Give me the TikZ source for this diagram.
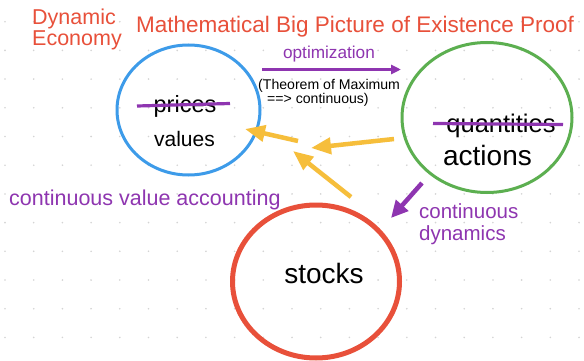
\documentclass[tikz,border=0pt]{standalone}
\usepackage{fontspec}
\setmainfont{Liberation Sans}
\usetikzlibrary{shapes.geometric,arrows.meta}
\definecolor{tred}{HTML}{E8503A}
\definecolor{tpurple}{HTML}{8E35B0}
\definecolor{tblue}{HTML}{3D9BE9}
\definecolor{tgreen}{HTML}{5CAF50}
\definecolor{tyellow}{HTML}{F6BE3B}
\definecolor{tdot}{HTML}{D4D4D4}
\newcommand{\fs}[1]{\fontsize{#1}{#1}\selectfont}
\tikzset{
  oval/.style={ellipse,draw,inner sep=0pt},
  lbl/.style={inner sep=0pt,anchor=base},
  yarrow/.style={draw=tyellow,line width=4.5pt,-{Triangle[length=20pt,width=16pt]}},
  parrow/.style={draw=tpurple,line width=3pt,-{Triangle[length=10pt,width=9pt]}},
  strike/.style={draw=tpurple,line width=3.2pt}
}
\begin{document}
\begin{tikzpicture}[x=1pt,y=-1pt]
\useasboundingbox (0,0) rectangle (584,361);
\fill[white] (0,0) rectangle (584,361);
% dot grid
\foreach \i in {0,...,20}{\foreach \j in {0,...,12}{
  \fill[tdot] ({5+28.7*\i},{21.7+28.7*\j}) circle (0.9pt);}}
% titles
\node[lbl,anchor=base west,text=tred] (dyn) at (32,25) {\fs{21.5}Dynamic};
\node[lbl,anchor=base west,text=tred] (eco) at (32,46) {\fs{21.5}Economy};
\node[lbl,anchor=base west,text=tred] (title) at (136,33) {\fs{22.5}Mathematical Big Picture of Existence Proof};
% ovals
\node[oval,draw=tblue,line width=3pt,minimum width=143pt,minimum height=130pt] (prices) at (188.5,110) {};
\node[oval,draw=tgreen,line width=3pt,minimum width=170pt,minimum height=150pt] (quant) at (487,117.5) {};
\node[oval,draw=tred,line width=5pt,minimum width=167pt,minimum height=153pt] (stocks) at (316,281.5) {};
% oval labels
\node[lbl] (ptxt) at (185,112) {\fs{23.5}prices};
\node[lbl] (vtxt) at (184.5,146) {\fs{21}values};
\node[lbl] (qtxt) at (501,132) {\fs{25.5}quantities};
\node[lbl] (atxt) at (487.5,165) {\fs{28}actions};
\node[lbl] (stxt) at (324,283) {\fs{28}stocks};
% strike lines
\coordinate (p1) at (137,106); \coordinate (p2) at (230,103.5);
\draw[strike] (p1) -- (p2);
\coordinate (q1) at (433,123.5); \coordinate (q2) at (563,124.5);
\draw[strike] (q1) -- (q2);
% optimization arrow
\coordinate (o1) at (262,69.5); \coordinate (o2) at (401,69.5);
\draw[parrow] (o1) -- (o2);
\node[lbl,text=tpurple] (opt) at (329,59) {\fs{17.2}optimization};
\node[lbl,anchor=base west] (thm1) at (258,89) {\fs{14.1}(Theorem of Maximum};
\node[lbl,anchor=base west] (thm2) at (267,103) {\fs{14.1}==> continuous)};
% yellow arrows
\coordinate (y1a) at (394,139); \coordinate (y1b) at (311,148);
\draw[yarrow] (y1a) -- (y1b);
\coordinate (y2a) at (351,197); \coordinate (y2b) at (293,151);
\draw[yarrow] (y2a) -- (y2b);
\coordinate (y3a) at (298,141); \coordinate (y3b) at (245,129);
\draw[yarrow] (y3a) -- (y3b);
% dynamics arrow
\coordinate (d1) at (422,183); \coordinate (d2) at (391,218);
\draw[draw=tpurple,line width=4.5pt,-{Triangle[length=17pt,width=16pt]}] (d1) -- (d2);
% purple labels
\node[lbl,anchor=base west,text=tpurple] (cva) at (9,205) {\fs{21.5}continuous value accounting};
\node[lbl,anchor=base west,text=tpurple] (cd1) at (419,218) {\fs{20.5}continuous};
\node[lbl,anchor=base west,text=tpurple] (cd2) at (419,240) {\fs{20.5}dynamics};
\end{tikzpicture}
\end{document}
